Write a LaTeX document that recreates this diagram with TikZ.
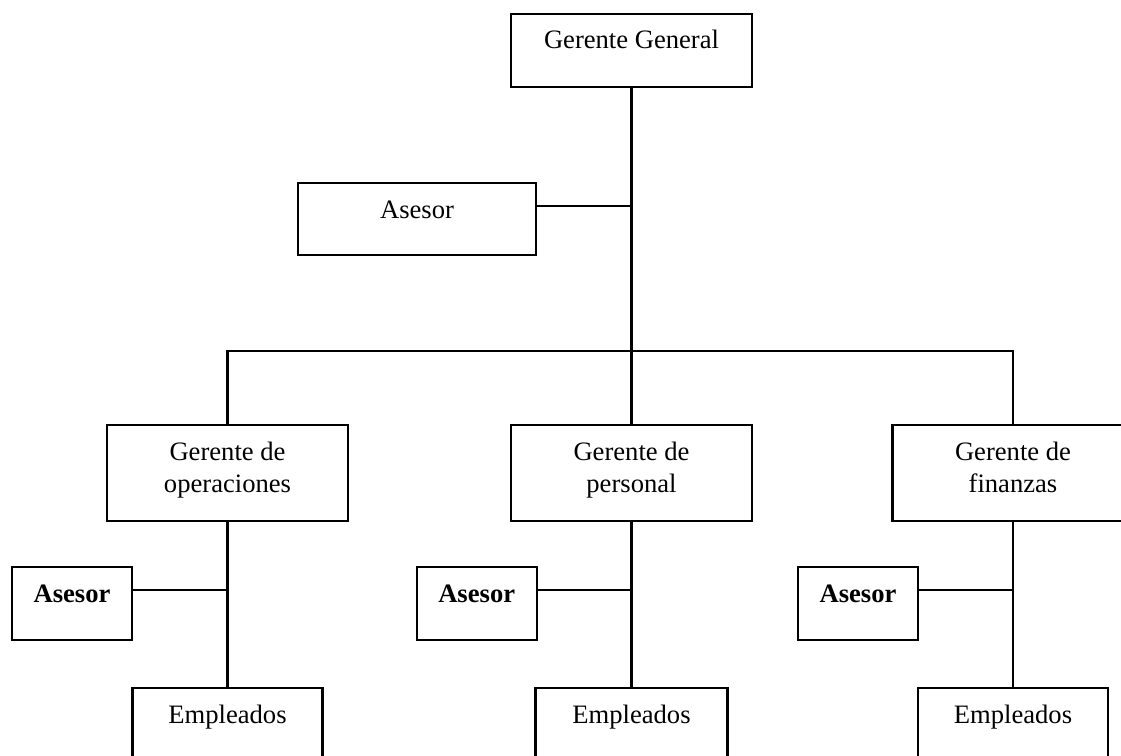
\documentclass[tikz,border=0pt]{standalone}
\usepackage{fontspec}
\setmainfont{Liberation Serif}
\usetikzlibrary{positioning}

\begin{document}
\begin{tikzpicture}[
            x=0.5pt, y=-0.5pt,
            font=\fontsize{13.3}{16}\selectfont,
            caja/.style={draw, line width=1.2pt, inner sep=0pt, anchor=north,
                         align=center, text height=17.5pt},
            gerente/.style={caja, minimum width=120.5pt, text height=33.5pt, text depth=14.5pt},
            asesor/.style={caja, minimum width=60pt, text depth=18.8pt},
            empleados/.style={caja, minimum width=95pt, text depth=20pt},
            linea/.style={line width=1.2pt}
        ]

        \clip (0,0) rectangle (1121,756);

        % Encabezado
        \node[caja, minimum width=120.5pt, text depth=19pt] (gg) at (631.5, 12.7) {Gerente General};
        \node[caja, minimum width=119pt, text depth=18.5pt] (as0) at (417, 182) {Asesor};

        % --- Gerentes de área ---
        \node[gerente] (go) at (227.5, 424) {Gerente de\\operaciones};
        \node[gerente] (gp) at (631.5, 424) {Gerente de\\personal};
        \node[gerente] (gf) at (1013, 424)  {Gerente de\\finanzas};

        % --- Asesores ---
        \node[asesor, font=\fontsize{13.3}{16}\selectfont\bfseries] (a1) at (72, 566)    {Asesor};
        \node[asesor, font=\fontsize{13.3}{16}\selectfont\bfseries] (a2) at (476.7, 566) {Asesor};
        \node[asesor, font=\fontsize{13.3}{16}\selectfont\bfseries] (a3) at (858, 566)   {Asesor};

        % --- Empleados ---
        \node[empleados] (e1) at (227.5, 687) {Empleados};
        \node[empleados, minimum width=96pt] (e2) at (631.5, 687) {Empleados};
        \node[empleados] (e3) at (1013, 687)  {Empleados};

        % Conexiones
        \coordinate (barra) at (631.5, 351);
        \draw[linea] (gg) -- (gp);
        \draw[linea] (go.north) |- (barra) -| (gf.north);
        \coordinate (k0) at ([yshift=-12pt]as0.north east);
        \draw[linea] (k0) -- (k0 -| gg.south);

        \foreach \g/\a/\e in {go/a1/e1, gp/a2/e2, gf/a3/e3} {
            \draw[linea] (\g) -- (\e);
            \coordinate (k\a) at ([yshift=-12pt]\a.north east);
            \draw[linea] (k\a) -- (k\a -| \e.north);
        }

        \end{tikzpicture}
\end{document}
